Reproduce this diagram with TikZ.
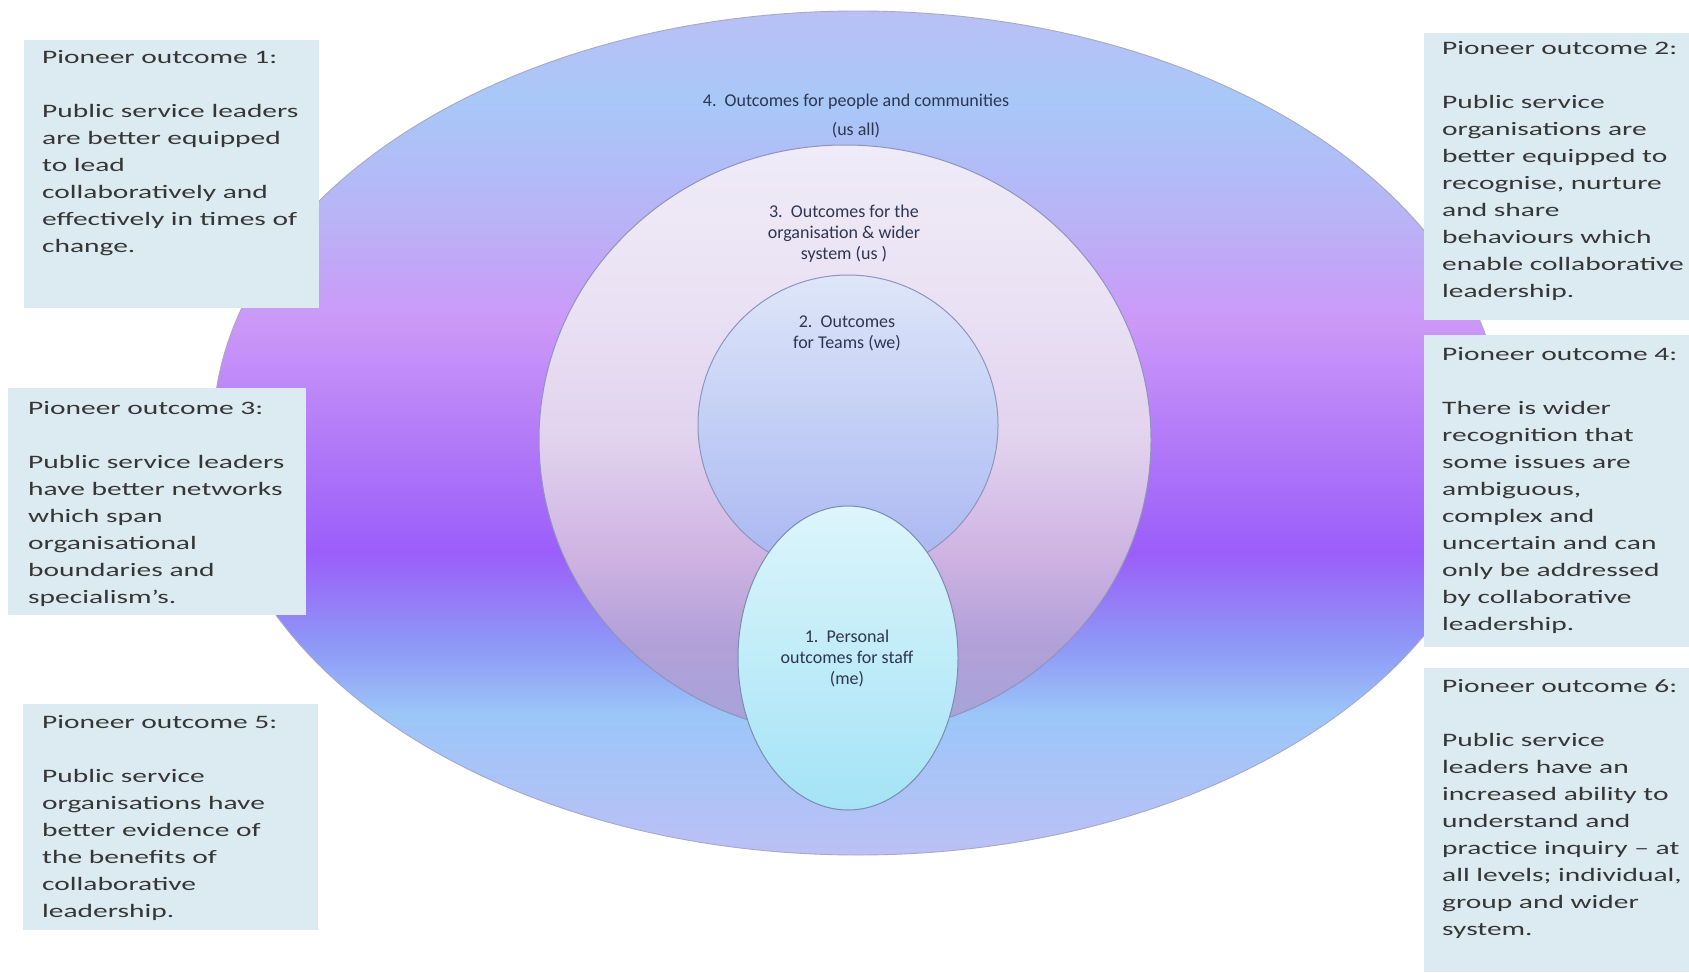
\documentclass[tikz,border=0pt]{standalone}
\usepackage{fontspec}
\setmainfont{Carlito}
\newfontfamily\boxfont[FakeStretch=1.55]{Carlito}
\definecolor{boxfill}{HTML}{DCEBF1}
\definecolor{boxtext}{HTML}{363636}
\definecolor{lbltext}{HTML}{2E3650}
\definecolor{bgA}{HTML}{BCC0F5}
\definecolor{bgB}{HTML}{9CC6F8}
\definecolor{bgC}{HTML}{8E98F6}
\definecolor{bgD}{HTML}{9B5EF9}
\definecolor{bgE}{HTML}{B27AF8}
\definecolor{bgF}{HTML}{CC98F8}
\definecolor{bgG}{HTML}{B8B4F6}
\definecolor{bgH}{HTML}{A8C8F8}
\definecolor{bgI}{HTML}{BAC0F6}
\definecolor{mcA}{HTML}{A4A4DA}
\definecolor{mcB}{HTML}{B2A0D8}
\definecolor{mcC}{HTML}{CDB2E2}
\definecolor{mcD}{HTML}{E2D2EE}
\definecolor{mcE}{HTML}{EAE2F4}
\definecolor{mcF}{HTML}{EFEBF7}
\definecolor{icTop}{HTML}{DEE6F8}
\definecolor{icMid}{HTML}{C8D2F6}
\definecolor{icBot}{HTML}{A8B6F2}
\definecolor{meTop}{HTML}{DDF5FB}
\definecolor{meBot}{HTML}{A4E3F6}
\definecolor{edgeA}{HTML}{A8A8C8}
\definecolor{edgeB}{HTML}{8E94BC}
\definecolor{edgeC}{HTML}{7A8CB0}
\pgfdeclareverticalshading{bigshade}{100bp}{color(0bp)=(bgA); color(25bp)=(bgA); color(33.3bp)=(bgB); color(37.4bp)=(bgC); color(42.9bp)=(bgD); color(49.6bp)=(bgE); color(56.5bp)=(bgF); color(62.9bp)=(bgG); color(69.7bp)=(bgH); color(75bp)=(bgI); color(100bp)=(bgI)}
\pgfdeclareverticalshading{midshade}{100bp}{color(0bp)=(mcA); color(25bp)=(mcA); color(33bp)=(mcB); color(39.8bp)=(mcC); color(50bp)=(mcD); color(61.9bp)=(mcE); color(75bp)=(mcF); color(100bp)=(mcF)}
\begin{document}
\begin{tikzpicture}[x=1pt,y=-1pt,
  outbox/.style={fill=boxfill, draw=none, inner sep=0pt, anchor=north west},
  boxtxt/.style={anchor=north west, inner sep=0pt, align=left, text=boxtext, font=\boxfont\fontsize{19}{27}\selectfont},
  lbl/.style={anchor=north, inner sep=0pt, align=center, text=lbltext, font=\fontsize{18}{21}\selectfont}]
\useasboundingbox (0,0) rectangle (1689,972);
\fill[white] (0,0) rectangle (1689,972);
% rings
\shade[shading=bigshade, draw=edgeA, line width=0.9pt] (858,433) ellipse [x radius=645pt, y radius=422pt];
\shade[shading=midshade, draw=edgeB, line width=1pt] (845,440) ellipse [x radius=306pt, y radius=295pt];
\shade[top color=icTop, middle color=icMid, bottom color=icBot, draw=edgeB, line width=1pt] (848,425) circle [radius=150pt];
\shade[top color=meTop, bottom color=meBot, draw=edgeC, line width=1pt] (848,658) ellipse [x radius=110pt, y radius=152pt];
% ring labels
\node[lbl] (l4) at (856,91) {\rule{0pt}{15pt}4.\ \ Outcomes for people and communities\\[8pt](us all)};
\node[lbl] (l3) at (844,202) {\rule{0pt}{15pt}3.\ \ Outcomes for the\\organisation \& wider\\system (us )};
\node[lbl] (l2) at (847,312) {\rule{0pt}{15pt}2.\ \ Outcomes\\for Teams (we)};
\node[lbl] (l1) at (847,627) {\rule{0pt}{15pt}1.\ \ Personal\\outcomes for staff\\(me)};
% boxes
\node[outbox, minimum width=295pt, minimum height=268pt] (b1) at (24,40) {};
\node[outbox, minimum width=298pt, minimum height=227pt] (b3) at (8,388) {};
\node[outbox, minimum width=295pt, minimum height=226pt] (b5) at (23,704) {};
\node[outbox, minimum width=265pt, minimum height=287pt] (b2) at (1424,33) {};
\node[outbox, minimum width=265pt, minimum height=312pt] (b4) at (1424,335) {};
\node[outbox, minimum width=265pt, minimum height=304pt] (b6) at (1424,668) {};
% box texts
\node[boxtxt] (t1) at (42,47) {\rule{0pt}{16pt}Pioneer outcome 1:\\[27pt]Public service leaders\\are better  equipped\\to lead\\collaboratively and\\effectively in times of\\change.};
\node[boxtxt] (t3) at (28,398) {\rule{0pt}{16pt}Pioneer outcome 3:\\[27pt]Public service leaders\\have better networks\\which span\\organisational\\boundaries and\\specialism’s.};
\node[boxtxt] (t5) at (42,712) {\rule{0pt}{16pt}Pioneer outcome 5:\\[27pt]Public service\\organisations have\\better evidence of\\the benefits of\\collaborative\\leadership.};
\node[boxtxt] (t2) at (1442,38) {\rule{0pt}{16pt}Pioneer outcome 2:\\[27pt]Public service\\organisations are\\better equipped to\\recognise, nurture\\and share\\behaviours which\\enable collaborative\\leadership.};
\node[boxtxt] (t4) at (1442,344) {\rule{0pt}{16pt}Pioneer outcome 4:\\[27pt]There is wider\\recognition that\\some issues are\\ambiguous,\\complex and\\uncertain and can\\only be addressed\\by collaborative\\leadership.};
\node[boxtxt] (t6) at (1442,676) {\rule{0pt}{16pt}Pioneer outcome 6:\\[27pt]Public service\\leaders have an\\increased ability to\\understand and\\practice inquiry – at\\all levels; individual,\\group and wider\\system.};
\end{tikzpicture}
\end{document}
